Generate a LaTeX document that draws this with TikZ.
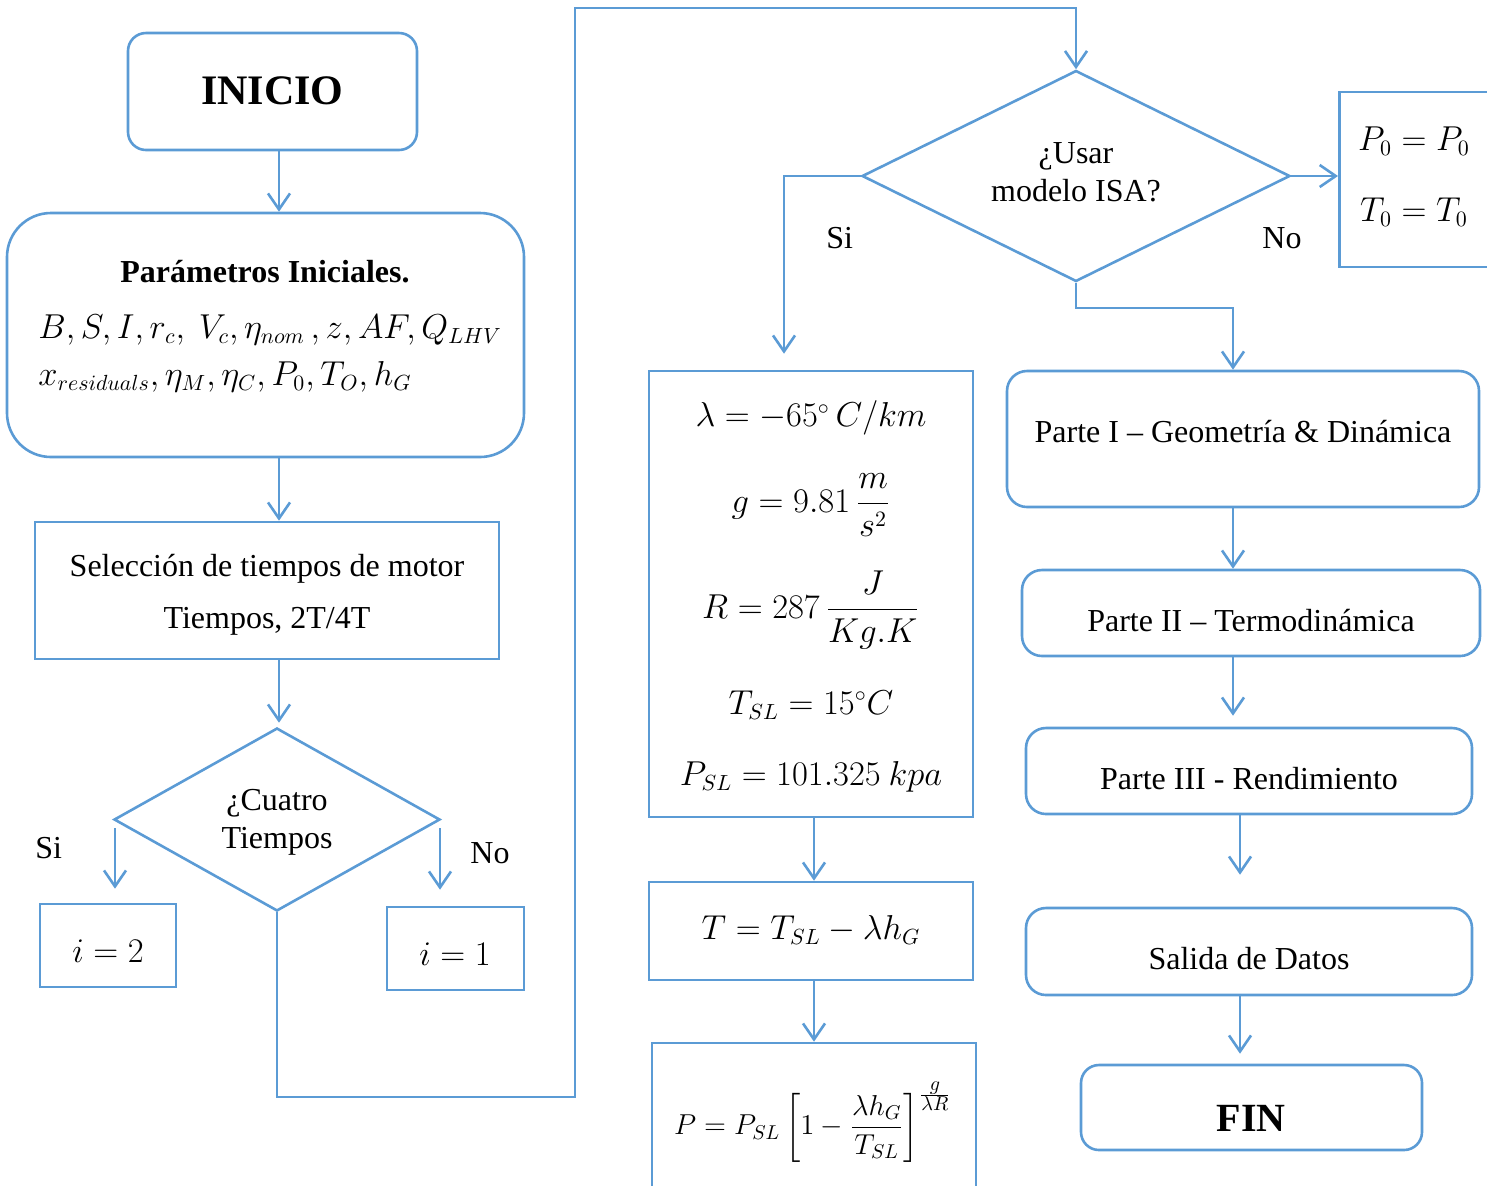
\documentclass[tikz,border=0pt]{standalone}
\usepackage{fontspec}
\setmainfont{Liberation Serif}
\usepackage{amsmath}
\usetikzlibrary{arrows.meta,shapes.geometric}
\definecolor{ablue}{HTML}{5B9BD5}
\begin{document}
\begin{tikzpicture}[x=0.5pt,y=-0.5pt,
  ln/.style={draw=ablue,line width=1.3pt},
  arr/.style={ln,-{Straight Barb[length=8pt,width=11pt,line width=1.3pt]}},
  sbox/.style={ln,rectangle,inner sep=0pt},
  rbox/.style={ln,rectangle,inner sep=0pt,rounded corners=10pt},
  dia/.style={ln,diamond,inner sep=0pt},
  txt/.style={inner sep=0pt,align=center,font=\fontsize{16}{19}\selectfont},
  mth/.style={inner sep=0pt,font=\fontsize{16}{19}\selectfont}]
\clip (0,0) rectangle (1487,1185);
\useasboundingbox (0,0) rectangle (1487,1185);

% ---------- left column ----------
\node[rbox,rounded corners=9pt,minimum width=144.5pt,minimum height=58.5pt] (ini) at (272.5,91.5) {};
\node[txt,font=\fontsize{21}{24}\selectfont\bfseries] (iniT) at (272.5,91) {INICIO};

\node[rbox,rounded corners=22pt,minimum width=258.5pt,minimum height=122pt] (par) at (265.5,335) {};
\node[txt,font=\fontsize{16}{19}\selectfont\bfseries] (parT) at (265,272) {Parámetros Iniciales.};
\node[mth,anchor=west] (parL1) at (38,330) {$B,S,I,r_c,\ V_c,\eta_{nom}\,,z,AF,Q_{LHV}$};
\node[mth,anchor=west] (parL2) at (38,377) {$x_{residuals},\eta_M,\eta_C,P_0,T_O,h_G$};

\node[sbox,minimum width=232pt,minimum height=68.5pt] (sel) at (267,590.5) {};
\node[txt] (selT1) at (267,569) {Selección de tiempos de motor};
\node[txt] (selT2) at (267,621) {Tiempos, 2T/4T};

\node[dia,minimum width=163pt,minimum height=91.5pt] (d1) at (277,819.5) {};
\node[txt] (d1T) at (277,822) {¿Cuatro\\Tiempos};

\node[sbox,minimum width=68pt,minimum height=41.5pt] (i2) at (108,945.5) {};
\node[mth] (i2T) at (108,951) {$i = 2$};
\node[sbox,minimum width=68.5pt,minimum height=41.5pt] (i1) at (455.5,948.5) {};
\node[mth] (i1T) at (455,954) {$i = 1$};

\node[txt,anchor=west] (siA) at (35,848) {Si};
\node[txt,anchor=west] (noA) at (470,853) {No};

\coordinate (xA) at (279,0);
\coordinate (siS) at (115,828);
\coordinate (noS) at (440,828);
\coordinate (lp1) at (575,1097);
\coordinate (lp2) at (575,8);

\draw[arr] (ini.south -| xA) -- (par.north -| xA);
\draw[arr] (par.south -| xA) -- (sel.north -| xA);
\draw[arr] (sel.south -| xA) -- ([yshift=2pt]d1.north -| xA);
\draw[arr,shorten >=7pt] (siS) -- (i2.north -| siS);
\draw[arr,shorten >=8pt] (noS) -- (i1.north -| noS);

% ---------- ISA column ----------
\node[dia,minimum width=214pt,minimum height=105.5pt] (d2) at (1076,176) {};
\node[txt] (d2T) at (1076,172) {¿Usar\\modelo ISA?};
\node[txt,anchor=west] (siB) at (826,238) {Si};
\node[txt,anchor=west] (noB) at (1262,238) {No};

\draw[arr] (d1.south) |- (lp1) -- (lp2) -| (d2.north);

\node[sbox,minimum width=162pt,minimum height=223pt] (isa) at (811,594) {};
\node[mth] (isa1) at (811,418) {$\lambda = -65^\circ\, C/km$};
\node[mth] (isa2) at (811,505) {$g = 9.81\,\dfrac{m}{s^2}$};
\node[mth] (isa3) at (811,610) {$R = 287\,\dfrac{J}{Kg.K}$};
\node[mth] (isa4) at (811,705) {$T_{SL} = 15^\circ C$};
\node[mth] (isa5) at (811,777) {$P_{SL} = 101.325\ kpa$};

\node[sbox,minimum width=162pt,minimum height=49pt] (tb) at (811,931) {};
\node[mth] (tbT) at (811,930) {$T = T_{SL} - \lambda h_G$};

\node[sbox,minimum width=162pt,minimum height=100pt] (pb) at (814,1143) {};
\node[mth,font=\fontsize{14.5}{17}\selectfont] (pbT) at (813,1122) {$P = P_{SL}\left[1-\dfrac{\lambda h_G}{T_{SL}}\right]^{\frac{\scriptstyle g}{\scriptstyle\lambda R}}$};

\node[sbox,minimum width=100pt,minimum height=87.5pt,anchor=west] (p0) at (1338,179.5) {};
\node[mth] (p0a) at (1414,141) {$P_0 = P_0$};
\node[mth] (p0b) at (1414,212) {$T_0 = T_0$};

\coordinate (xSi) at (784,0);
\coordinate (xM) at (814,0);
\draw[arr,shorten >=8pt] (d2.west) -| (isa.north -| xSi);
\draw[arr] (d2.east) -- (p0.west |- d2.east);
\draw[arr] (isa.south -| xM) -- (tb.north -| xM);
\draw[arr] (tb.south -| xM) -- (pb.north -| xM);

% ---------- right column ----------
\node[rbox,minimum width=236pt,minimum height=68pt] (p1) at (1243,439) {};
\node[txt] (p1T) at (1243,432) {Parte I – Geometría \& Dinámica};
\node[rbox,minimum width=229pt,minimum height=43pt] (p2) at (1251,613) {};
\node[txt] (p2T) at (1251,621) {Parte II – Termodinámica};
\node[rbox,minimum width=223pt,minimum height=43pt] (p3) at (1249,771) {};
\node[txt] (p3T) at (1249,779) {Parte III - Rendimiento};
\node[rbox,minimum width=223pt,minimum height=43.5pt] (sal) at (1249,951.5) {};
\node[txt] (salT) at (1249,959) {Salida de Datos};
\node[rbox,rounded corners=9pt,minimum width=170.5pt,minimum height=42.5pt] (fin) at (1251.5,1107.5) {};
\node[txt,font=\fontsize{20}{24}\selectfont\bfseries] (finT) at (1251,1118) {FIN};

\coordinate (xB) at (1233,0);
\coordinate (xC) at (1240,0);
\draw[arr] (d2.south) -- ++(0,25) -| (p1.north -| xB);
\draw[arr] (p1.south -| xB) -- (p2.north -| xB);
\draw[arr,shorten >=5.5pt] (p2.south -| xB) -- (p3.north -| xB);
\draw[arr,shorten >=16pt] (p3.south -| xC) -- (sal.north -| xC);
\draw[arr,shorten >=5pt] (sal.south -| xC) -- (fin.north -| xC);
\end{tikzpicture}
\end{document}
